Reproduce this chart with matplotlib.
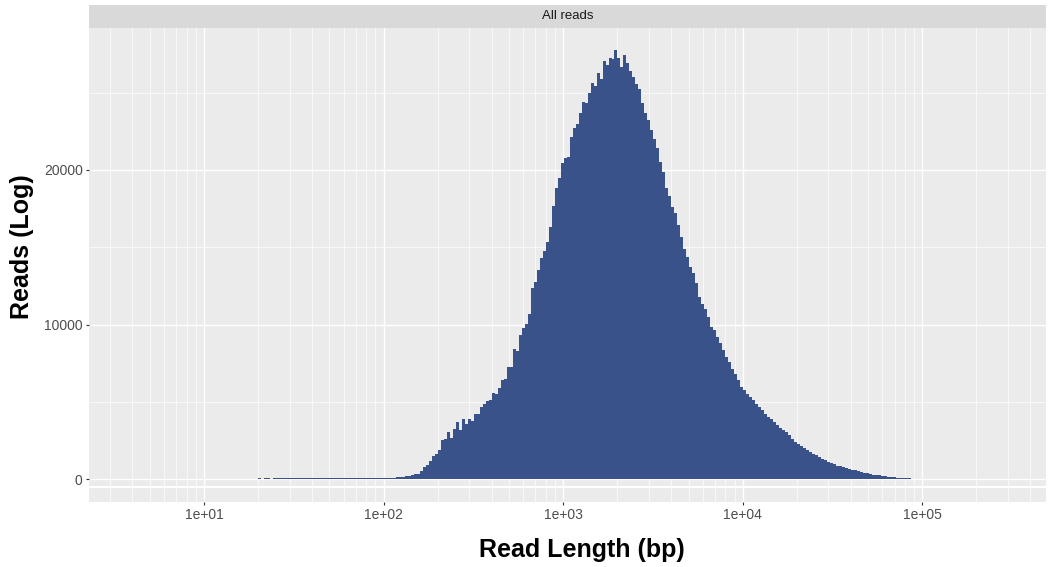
import numpy as np
import matplotlib
matplotlib.use("Agg")
import matplotlib.pyplot as plt
from matplotlib.ticker import FixedLocator, FuncFormatter, NullLocator

# read length histogram, bins equally spaced on a log10 scale
bin_start_log = 1.286
bins_per_decade = 60
counts = [
    60, 65, 55, 70, 65, 60, 75, 65, 70, 75,
    65, 75, 70, 80, 75, 85, 70, 80, 85, 75,
    85, 80, 85, 90, 80, 85, 90, 85, 95, 85,
    90, 100, 85, 95, 105, 90, 100, 105, 95, 100,
    105, 100, 110, 115, 110, 120, 115, 140, 150, 160,
    220, 240, 300, 360, 380, 518, 798, 906, 1186, 1488,
    1661, 1920, 2524, 2588, 3063, 2696, 3279, 3710, 3214, 3926,
    3602, 3883, 3753, 4249, 4206, 4681, 4896, 5069, 5155, 5587,
    5543, 5932, 6406, 6514, 7269, 7269, 8412, 8304, 9361, 9814,
    10073, 10720, 12338, 12770, 13525, 14279, 14775, 15358, 16285, 17687,
    18809, 19456, 20470, 20750, 20815, 22109, 22691, 22972, 23705, 24396,
    24310, 24957, 25604, 25431, 26251, 25863, 27006, 26790, 27221, 27157,
    27718, 27221, 26639, 27394, 26898, 26359, 26000, 25539, 25200, 24310,
    23705, 23231, 22584, 21980, 21397, 20534, 19887, 18809, 18313, 17623,
    17191, 16436, 15681, 14862, 14387, 13697, 13352, 12662, 11799, 11367,
    11044, 10505, 9857, 9685, 9210, 8822, 8347, 7916, 7593, 7161,
    6800, 6400, 6000, 5760, 5550, 5300, 5155, 4896, 4681, 4465,
    4249, 4034, 3900, 3700, 3500, 3330, 3214, 3063, 2847, 2600,
    2450, 2300, 2180, 2050, 1900, 1780, 1650, 1553, 1445, 1350,
    1240, 1140, 1040, 970, 900, 840, 780, 720, 670, 630,
    585, 530, 480, 430, 390, 350, 320, 290, 260, 230,
    200, 175, 155, 135, 115, 100, 85, 75, 65, 55,
    45, 35,
]
x_ticks = [1e1, 1e2, 1e3, 1e4, 1e5]
x_minor = [m * 10 ** k for k in range(0, 6) for m in range(2, 10)]
y_ticks = [0, 10000, 20000]
y_minor = [5000, 15000, 25000]
panel_title = "All reads"

edges = 10 ** (bin_start_log + np.arange(len(counts) + 1) / bins_per_decade)

plt.rcParams["font.family"] = ["Liberation Sans", "DejaVu Sans"]
bg = "#EBEBEB"
bar_color = "#3A528A"
xlim = (10 ** 0.36, 10 ** 5.688)

fig = plt.figure(figsize=(10.48, 5.67), dpi=100)
ax = fig.add_axes([0.0849, 0.1429, 0.9131, 0.8077])
strip = fig.add_axes([0.0849, 0.9506, 0.9131, 0.0406])
ax2 = fig.add_axes([0.0849, 0.1146, 0.9131, 0.0247])


def panel_grid(a, horizontal=True):
    for v in x_minor:
        a.axvline(v, color="white", lw=0.5, zorder=0.5)
    for v in x_ticks:
        a.axvline(v, color="white", lw=1.0, zorder=0.6)
    if horizontal:
        for v in y_minor:
            a.axhline(v, color="white", lw=0.5, zorder=0.5)
        for v in y_ticks:
            a.axhline(v, color="white", lw=1.0, zorder=0.6)


# main panel
ax.set_facecolor(bg)
ax.set_xscale("log")
panel_grid(ax)
ax.stairs(counts, edges, fill=True, color=bar_color, lw=0, zorder=3)
ax.set_xlim(*xlim)
ax.set_ylim(-420, 29167)
ax.xaxis.set_major_locator(NullLocator())
ax.xaxis.set_minor_locator(NullLocator())
ax.yaxis.set_major_locator(FixedLocator(y_ticks))
ax.yaxis.set_minor_locator(NullLocator())
ax.tick_params(axis="y", which="major", length=2.5, width=0.8, color="#333333",
               labelsize=10, labelcolor="#4D4D4D", pad=2)
for s in ax.spines.values():
    s.set_visible(False)

# facet strip
strip.set_facecolor("#D9D9D9")
strip.set_xticks([])
strip.set_yticks([])
for s in strip.spines.values():
    s.set_visible(False)
strip.text(0.5, 0.5, panel_title, ha="center", va="center", fontsize=9.5,
           color="#1A1A1A", transform=strip.transAxes)

# thin lower panel carrying the x axis
ax2.set_facecolor(bg)
ax2.set_xscale("log")
panel_grid(ax2, horizontal=False)
ax2.set_xlim(*xlim)
ax2.set_ylim(0, 1)
ax2.set_yticks([])
ax2.xaxis.set_major_locator(FixedLocator(x_ticks))
ax2.xaxis.set_minor_locator(NullLocator())
ax2.xaxis.set_major_formatter(FuncFormatter(lambda v, p: f"{v:.0e}"))
ax2.tick_params(axis="x", which="major", length=2.5, width=0.8, color="#333333",
                labelsize=10, labelcolor="#4D4D4D", pad=2)
for s in ax2.spines.values():
    s.set_visible(False)

fig.text(0.5553, 1 - 550 / 567, "Read Length (bp)", ha="center", va="center",
         fontsize=18, fontweight="bold", color="black")
fig.text(22 / 1048, 1 - 247 / 567, "Reads (Log)", ha="center", va="center",
         rotation=90, fontsize=18, fontweight="bold", color="black")

fig.savefig("out.png", dpi=100, facecolor="white")
